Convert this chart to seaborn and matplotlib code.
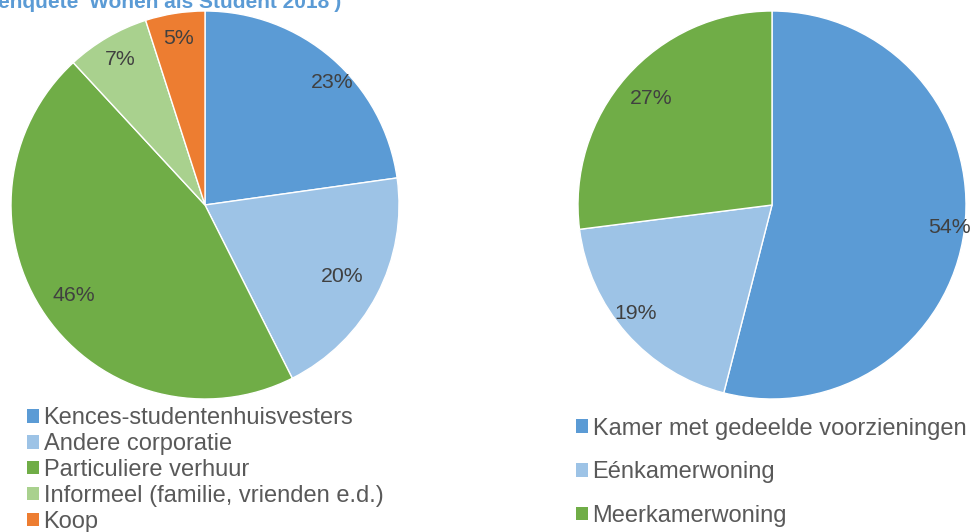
import numpy as np
import matplotlib
matplotlib.use("Agg")
import matplotlib.pyplot as plt
from matplotlib.patches import Patch
import seaborn as sns

# data
left_labels = ["Kences-studentenhuisvesters", "Andere corporatie", "Particuliere verhuur",
               "Informeel (familie, vrienden e.d.)", "Koop"]
left_values = [23, 20, 46, 7, 5]
right_labels = ["Kamer met gedeelde voorzieningen", "Eénkamerwoning", "Meerkamerwoning"]
right_values = [54, 19, 27]

left_colors = ["#5B9BD5", "#9DC3E6", "#70AD47", "#A9D18E", "#ED7D31"]
right_colors = ["#5B9BD5", "#9DC3E6", "#70AD47"]

sns.set_theme(style="white")
plt.rcParams["font.family"] = ["Liberation Sans", "DejaVu Sans"]

W, H = 972, 532
fig = plt.figure(figsize=(W / 100, H / 100), dpi=100)


def pie_axes(cx, cy, r):
    return fig.add_axes([(cx - r) / W, (H - cy - r) / H, 2 * r / W, 2 * r / H])


def draw_pie(ax, values, colors, dists, shifts):
    wedges, _ = ax.pie(values, colors=colors, startangle=90, counterclock=False,
                       wedgeprops=dict(edgecolor="white", linewidth=1))
    total = sum(values)
    for w, v, d, s in zip(wedges, values, dists, shifts):
        ang = np.deg2rad((w.theta1 + w.theta2) / 2 - s)
        ax.text(d * np.cos(ang), d * np.sin(ang), f"{round(v / total * 100)}%",
                ha="center", va="center", fontsize=15.3, color="#404040")
    ax.set_xlim(-1, 1)
    ax.set_ylim(-1, 1)
    ax.axis("off")


ax1 = pie_axes(205, 205, 194)
draw_pie(ax1, left_values, left_colors, [0.91, 0.8, 0.82, 0.87, 0.87], [5, 0, 0, 0, 0])
ax2 = pie_axes(772, 205, 194)
draw_pie(ax2, right_values, right_colors, [0.92, 0.9, 0.83], [0, 3, 0])

# cropped title
fig.text(-0.002, 1 - 8 / H, "enquête 'Wonen als Student 2018')", fontsize=15,
         fontweight="bold", color="#5B9BD5", va="baseline", ha="left")

# legends
leg_kw = dict(loc="upper left", frameon=False, fontsize=17, labelcolor="#595959",
              handlelength=0.5, handleheight=0.5, handletextpad=0.2,
              borderpad=0, borderaxespad=0)
h1 = [Patch(facecolor=c, edgecolor="none") for c in left_colors]
fig.legend(h1, left_labels, bbox_to_anchor=(27 / W, 1 - 407.5 / H),
           labelspacing=0.16, **leg_kw)
h2 = [Patch(facecolor=c, edgecolor="none") for c in right_colors]
fig.legend(h2, right_labels, bbox_to_anchor=(576 / W, 1 - 417.5 / H),
           labelspacing=0.92, **leg_kw)

fig.savefig("out.png", dpi=100)
